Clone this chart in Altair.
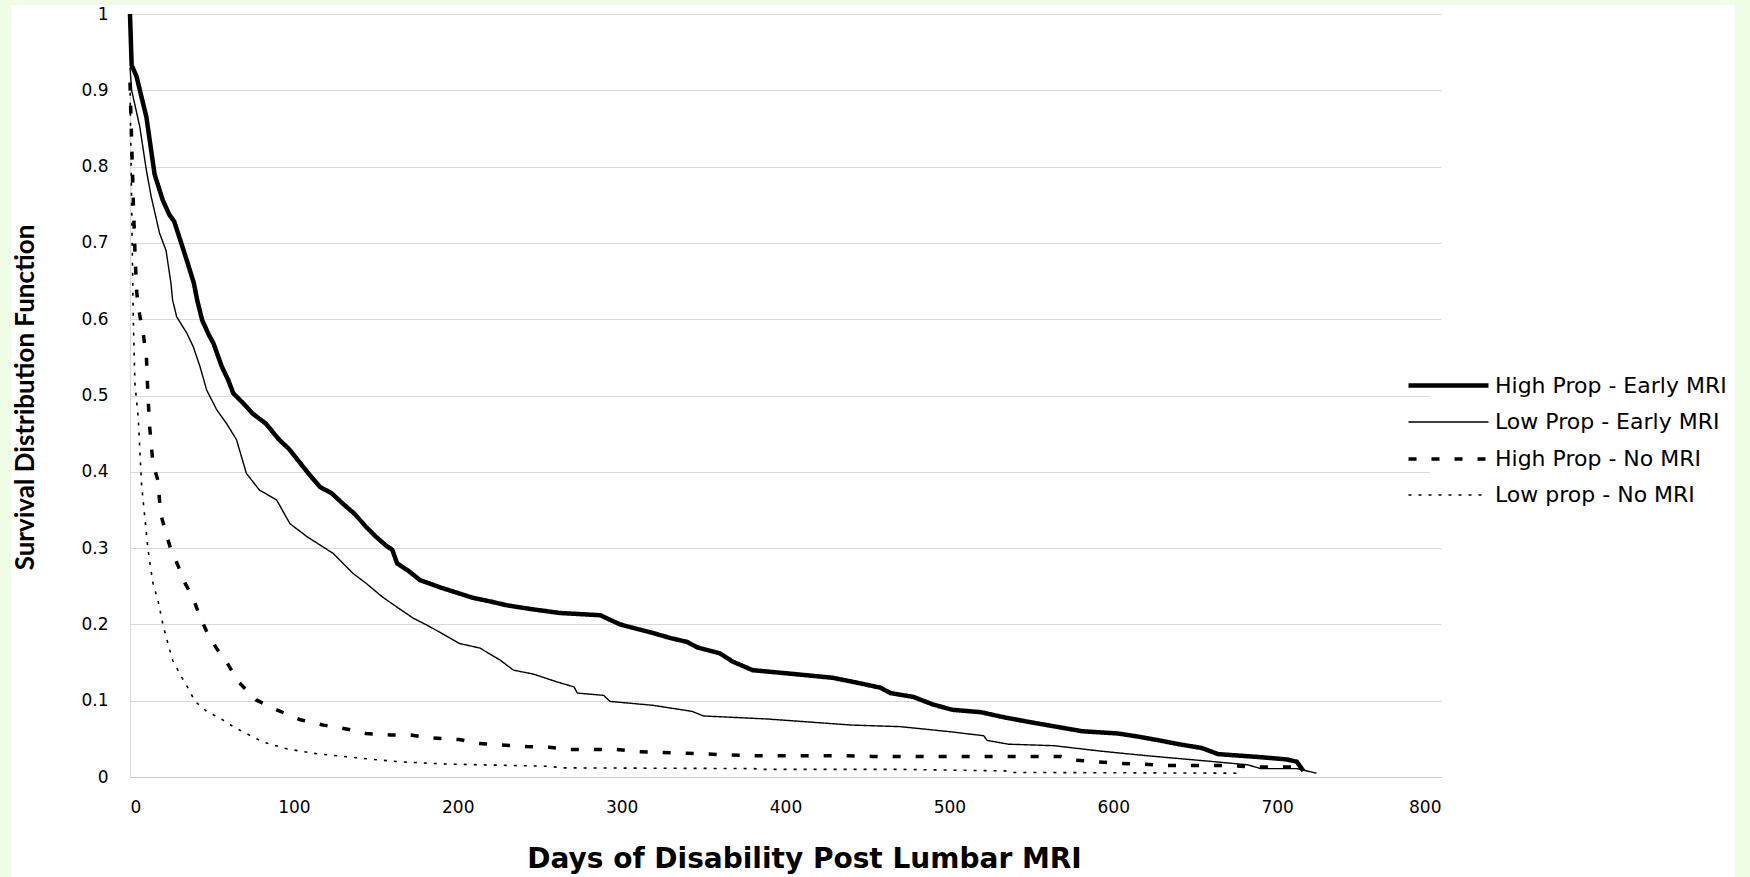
import altair as alt
import pandas as pd

# ---------------- data ----------------
series_names = ["High Prop - Early MRI", "Low Prop - Early MRI",
                "High Prop - No MRI", "Low prop - No MRI"]

hp_early_days = [0, 1, 4, 10, 15, 20, 24, 27, 32, 36, 39, 41, 44, 48, 51, 56, 60, 63, 69, 75,
                 83, 91, 97, 104, 110, 116, 123, 130, 137, 144, 150, 157, 160, 163, 170, 177,
                 190, 209, 220, 230, 245, 262, 287, 299, 317, 330, 340, 346, 360, 368, 380,
                 405, 429, 445, 458, 464, 478, 490, 502, 519, 534, 549, 565, 581, 603, 615,
                 628, 640, 654, 664, 690, 706, 712, 716]
hp_early_surv = [1.0, 0.933, 0.918, 0.865, 0.79, 0.756, 0.737, 0.728, 0.695, 0.668, 0.647,
                 0.625, 0.599, 0.58, 0.568, 0.538, 0.52, 0.503, 0.49, 0.476, 0.463, 0.442,
                 0.43, 0.411, 0.395, 0.38, 0.372, 0.358, 0.345, 0.328, 0.315, 0.302, 0.298,
                 0.28, 0.27, 0.258, 0.248, 0.235, 0.23, 0.225, 0.22, 0.215, 0.212, 0.2, 0.19,
                 0.182, 0.177, 0.17, 0.162, 0.151, 0.14, 0.135, 0.13, 0.123, 0.117, 0.11,
                 0.105, 0.095, 0.088, 0.085, 0.078, 0.072, 0.066, 0.06, 0.057, 0.053, 0.048,
                 0.043, 0.038, 0.03, 0.026, 0.023, 0.02, 0.008]

lp_early_days = [0, 1, 6, 10, 13, 18, 22, 25, 26, 28.5, 34.6, 38.6, 42.7, 46.8, 53, 59, 65,
                 71, 79, 89.5, 97.6, 108, 124, 136, 144, 154, 164, 173, 183, 201, 213.5, 226,
                 234, 246, 260, 271, 273, 289, 293, 319, 343, 350, 389, 441, 470, 502, 521,
                 523, 536, 564, 592, 620, 662, 682, 690, 712, 724]
lp_early_surv = [0.93, 0.9, 0.852, 0.795, 0.76, 0.713, 0.69, 0.647, 0.625, 0.603, 0.582,
                 0.564, 0.538, 0.507, 0.481, 0.463, 0.442, 0.398, 0.376, 0.363, 0.332, 0.315,
                 0.293, 0.267, 0.254, 0.236, 0.221, 0.208, 0.197, 0.175, 0.169, 0.153, 0.14,
                 0.135, 0.125, 0.118, 0.11, 0.107, 0.099, 0.094, 0.086, 0.08, 0.076, 0.068,
                 0.066, 0.059, 0.054, 0.048, 0.043, 0.041, 0.034, 0.028, 0.02, 0.016, 0.011,
                 0.011, 0.005]

hp_nomri_days = [0, 2, 3, 4, 5, 8, 10, 11, 12, 14, 17, 18.7, 22, 25, 29.5, 33.6, 38.6, 42.7,
                 47.8, 53, 60, 66, 77, 89.5, 104, 118, 132, 144, 159, 171, 185, 201, 213,
                 226, 242, 256, 268, 297, 311, 340, 366, 380, 437, 453, 568, 577, 590, 602,
                 617, 632, 673, 684, 701, 714]
hp_nomri_surv = [0.91, 0.756, 0.69, 0.638, 0.616, 0.582, 0.551, 0.498, 0.459, 0.411, 0.389,
                 0.345, 0.319, 0.298, 0.276, 0.254, 0.234, 0.21, 0.186, 0.168, 0.147, 0.125,
                 0.101, 0.088, 0.075, 0.068, 0.063, 0.057, 0.055, 0.055, 0.051, 0.049, 0.044,
                 0.042, 0.04, 0.039, 0.036, 0.036, 0.033, 0.031, 0.029, 0.028, 0.028, 0.027,
                 0.027, 0.022, 0.02, 0.018, 0.017, 0.015, 0.015, 0.013, 0.013, 0.013]

lp_nomri_days = [0, 1, 2, 3, 5, 6, 7, 9, 11, 14, 17, 20, 22, 26, 31.5, 35.6, 39.7, 46.8, 55,
                 63, 71, 81, 95.6, 112, 130, 148.5, 164, 193, 256, 263, 380, 387, 470, 534,
                 537, 676]
lp_nomri_surv = [0.91, 0.75, 0.6, 0.516, 0.472, 0.429, 0.385, 0.341, 0.298, 0.254, 0.232,
                 0.201, 0.184, 0.153, 0.131, 0.116, 0.099, 0.086, 0.077, 0.066, 0.057, 0.046,
                 0.037, 0.031, 0.027, 0.023, 0.02, 0.017, 0.014, 0.012, 0.011, 0.01, 0.01,
                 0.008, 0.006, 0.005]

x_ticks = [0, 100, 200, 300, 400, 500, 600, 700, 800]
y_ticks = [0, 0.1, 0.2, 0.3, 0.4, 0.5, 0.6, 0.7, 0.8, 0.9, 1]

# ---------------- table ----------------
rows = []
for name, days, surv in zip(series_names,
                            [hp_early_days, lp_early_days, hp_nomri_days, lp_nomri_days],
                            [hp_early_surv, lp_early_surv, hp_nomri_surv, lp_nomri_surv]):
    for i, (d, s) in enumerate(zip(days, surv)):
        rows.append({"series": name, "day": d, "surv": s, "idx": i})
df = pd.DataFrame(rows)

W, H = 1311, 763
GREEN = "#EFFDE7"

frame = pd.DataFrame({"k": [0]})
left_strip = alt.Chart(frame).mark_rect(color=GREEN).encode(
    x=alt.value(-131), x2=alt.value(-119), y=alt.value(-15), y2=alt.value(H + 101))
top_strip = alt.Chart(frame).mark_rect(color=GREEN).encode(
    x=alt.value(-131), x2=alt.value(W + 310), y=alt.value(-15), y2=alt.value(-9))
right_strip = alt.Chart(frame).mark_rect(color=GREEN).encode(
    x=alt.value(1605), x2=alt.value(W + 310), y=alt.value(-15), y2=alt.value(H + 101))

lines = alt.Chart(df).mark_line(color="black", strokeCap="butt", strokeJoin="miter").encode(
    x=alt.X("day:Q",
            scale=alt.Scale(domain=[0, 800], nice=False, zero=False),
            axis=alt.Axis(values=x_ticks, title="Days of Disability Post Lumbar MRI",
                          grid=False, ticks=False, tickSize=0, domain=True,
                          domainColor="#c8c8c8", domainWidth=1.2,
                          labelFont="DejaVu Sans", labelFontSize=17, labelColor="black",
                          labelPadding=22,
                          titleFont="DejaVu Sans", titleFontWeight="bold", titleFontSize=28,
                          titleColor="black", titleX=674, titleY=90,
                          titleBaseline="alphabetic", titleAlign="center")),
    y=alt.Y("surv:Q",
            scale=alt.Scale(domain=[0, 1], nice=False),
            axis=alt.Axis(values=y_ticks, format="~g", title="Survival Distribution Function",
                          grid=True, gridColor="#d9d9d9", gridWidth=1.2,
                          ticks=False, tickSize=0, domain=True, domainColor="#d9d9d9",
                          labelFont="DejaVu Sans", labelFontSize=17, labelColor="black",
                          labelPadding=22,
                          titleFont="Lato", titleFontWeight="bold", titleFontSize=26,
                          titleColor="black", titleX=-97, titleY=383,
                          titleBaseline="alphabetic", titleAlign="center", titleAngle=270)),
    strokeWidth=alt.StrokeWidth("series:N",
                                scale=alt.Scale(type="ordinal", domain=series_names,
                                                range=[4.5, 1.4, 3.5, 1.6]),
                                legend=alt.Legend(title=None)),
    strokeDash=alt.StrokeDash("series:N",
                              scale=alt.Scale(domain=series_names,
                                              range=[[1, 0], [1, 0], [8, 15], [3, 7]]),
                              legend=alt.Legend(
                                  title=None, orient="none", legendX=1300, legendY=353,
                                  symbolType="M-4,0H4", symbolSize=400,
                                  symbolStrokeColor="black", symbolFillColor="transparent",
                                  labelFont="DejaVu Sans", labelFontSize=22, labelLimit=400,
                                  labelColor="black", labelOffset=34, rowPadding=14,
                                  fillColor="white", padding=6)),
    order=alt.Order("idx:Q"),
)

chart = alt.layer(left_strip, top_strip, right_strip, lines).properties(
    width=W, height=H,
    padding={"left": 130, "top": 14, "right": 309, "bottom": 100},
    autosize=alt.AutoSizeParams(type="none"),
    background="white",
).configure_view(stroke=None)

chart.save("out.html", embed_options={"renderer": "svg", "actions": False})
